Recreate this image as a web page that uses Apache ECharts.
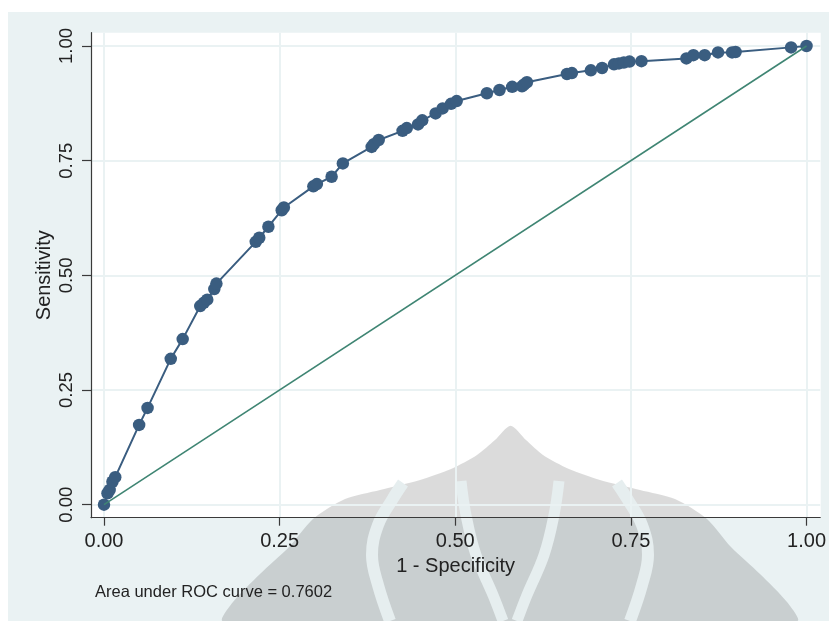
<!DOCTYPE html>
<html>
<head>
<meta charset="utf-8">
<script src="https://cdn.jsdelivr.net/npm/echarts@6/dist/echarts.min.js"></script>
<style>
html,body{margin:0;padding:0;background:#fff;width:829px;height:621px;overflow:hidden;}
#c{position:absolute;left:8px;top:12px;width:821px;height:609px;}
</style>
</head>
<body>
<div id="c"></div>
<script>
// ROC curve points: 1 - specificity (x) and sensitivity (y)
var fpr = [0, 0.005, 0.008, 0.012, 0.016, 0.050, 0.062, 0.095, 0.112, 0.137, 0.142, 0.147,
  0.157, 0.160, 0.216, 0.221, 0.234, 0.253, 0.256, 0.298, 0.303, 0.324, 0.340, 0.381,
  0.384, 0.391, 0.425, 0.431, 0.447, 0.453, 0.472, 0.482, 0.494, 0.502, 0.545, 0.563,
  0.581, 0.595, 0.598, 0.602, 0.659, 0.666, 0.693, 0.709, 0.726, 0.733, 0.740, 0.748,
  0.765, 0.829, 0.839, 0.855, 0.874, 0.894, 0.899, 0.978, 1.0];
var tpr = [0, 0.025, 0.032, 0.050, 0.060, 0.174, 0.211, 0.318, 0.361, 0.433, 0.440, 0.447,
  0.470, 0.482, 0.573, 0.582, 0.606, 0.642, 0.648, 0.694, 0.699, 0.715, 0.744, 0.780,
  0.786, 0.795, 0.815, 0.821, 0.829, 0.838, 0.853, 0.864, 0.874, 0.880, 0.897, 0.904,
  0.911, 0.912, 0.916, 0.921, 0.939, 0.941, 0.947, 0.952, 0.960, 0.962, 0.964, 0.966,
  0.967, 0.973, 0.980, 0.980, 0.986, 0.986, 0.987, 0.997, 1.0];
// reference (chance) line
var refX = [0, 1];
var refY = [0, 1];
// tick values
var xTicks = [0, 0.25, 0.5, 0.75, 1];
var yTicks = [0, 0.25, 0.5, 0.75, 1];
var xTitle = '1 - Specificity';
var yTitle = 'Sensitivity';
var note = 'Area under ROC curve = 0.7602';

var rocData = fpr.map(function (v, i) { return [v, tpr[i]]; });
var refData = refX.map(function (v, i) { return [v, refY[i]]; });

// decoration (background watermark) helpers: image coords -> container coords
var OX = 8, OY = 12;
function P(arr) { return arr.map(function (p) { return [p[0] - OX, p[1] - OY]; }); }
var dome = P([[510.6,425.7],[495,440],[477,455],[451,469],[420,480],[380,490],[345,499],[313,519],[289,547],[260,574],[233,602],[223,621],
  [797,621],[787,602],[760,574],[731,547],[707,519],[675,499],[640,490],[600,480],[569,469],[543,455],[526,440]]);
var bandL = P([[403,483],[392,500],[378,525],[372,555],[378,585],[390,621]]);
var bandR = P([[617,483],[628,500],[642,525],[648,555],[642,585],[630,621]]);
var uL = P([[461,481],[466,515],[476,555],[493,595],[503,621]]);
var uR = P([[559,481],[554,515],[544,555],[527,595],[517,621]]);

var fontMain = '"Liberation Sans", Arial, "DejaVu Sans", sans-serif';
var chart = echarts.init(document.getElementById('c'), null, { renderer: 'canvas' });
var axisCol = '#3a3a3a';
var gridCol = '#eaf2f3';

chart.setOption({
  backgroundColor: '#eaf2f3',
  animation: false,
  textStyle: { fontFamily: fontMain },
  title: {
    text: note,
    left: 87, top: 572, padding: 0,
    textStyle: { fontSize: 16.5, fontWeight: 'normal', color: '#222', fontFamily: fontMain }
  },
  grid: { left: 83, top: 20.7, right: 8.3, bottom: 103.3, show: false },
  graphic: [
    { type: 'rect', z: -20, silent: true, shape: { x: 83, y: 20.7, width: 729.7, height: 485 }, style: { fill: '#ffffff' } },
    { type: 'polygon', z: -19, silent: true, shape: { points: dome, smooth: 0.25 }, style: { fill: 'rgba(0,0,0,0.14)' } },
    { type: 'polyline', z: -18, silent: true, shape: { points: bandL, smooth: 0.4 }, style: { stroke: '#e6eeef', lineWidth: 12, fill: null } },
    { type: 'polyline', z: -18, silent: true, shape: { points: bandR, smooth: 0.4 }, style: { stroke: '#e6eeef', lineWidth: 12, fill: null } },
    { type: 'polyline', z: -18, silent: true, shape: { points: uL, smooth: 0.4 }, style: { stroke: '#e6eeef', lineWidth: 11, fill: null } },
    { type: 'polyline', z: -18, silent: true, shape: { points: uR, smooth: 0.4 }, style: { stroke: '#e6eeef', lineWidth: 11, fill: null } }
  ],
  xAxis: {
    type: 'value',
    min: -0.0185, max: 1.0195,
    name: xTitle,
    nameLocation: 'middle',
    nameGap: 39,
    nameMoveOverlap: false,
    nameTextStyle: { fontSize: 20, color: '#222', fontFamily: fontMain },
    axisLine: { show: true, onZero: false, lineStyle: { color: axisCol, width: 1.2 } },
    axisTick: { show: true, length: 8, customValues: xTicks, lineStyle: { color: axisCol, width: 1.2 } },
    axisLabel: { customValues: xTicks, margin: 14, fontSize: 20, color: '#222', fontFamily: fontMain,
      formatter: function (v) { return v.toFixed(2); } },
    splitLine: { show: true, lineStyle: { color: gridCol, width: 2 } }
  },
  yAxis: {
    type: 'value',
    min: -0.02834, max: 1.029,
    name: yTitle,
    nameLocation: 'middle',
    nameGap: 37,
    nameMoveOverlap: false,
    nameRotate: 90,
    nameTextStyle: { fontSize: 20, color: '#222', fontFamily: fontMain },
    axisLine: { show: true, onZero: false, lineStyle: { color: axisCol, width: 1.2 } },
    axisTick: { show: true, length: 9, customValues: yTicks, lineStyle: { color: axisCol, width: 1.2 } },
    axisLabel: { customValues: yTicks, rotate: 90, margin: 15, fontSize: 18.5, color: '#222', fontFamily: fontMain,
      formatter: function (v) { return v.toFixed(2); } },
    splitLine: { show: true, lineStyle: { color: gridCol, width: 2 } }
  },
  series: [
    {
      type: 'line',
      data: rocData,
      symbol: 'circle',
      symbolSize: 12.5,
      showAllSymbol: true,
      lineStyle: { color: '#3a5d80', width: 2 },
      itemStyle: { color: '#3a5d80' },
      z: 3
    },
    {
      type: 'line',
      data: refData,
      symbol: 'none',
      lineStyle: { color: '#3f8573', width: 1.6 },
      z: 4
    }
  ]
});
</script>
</body>
</html>
